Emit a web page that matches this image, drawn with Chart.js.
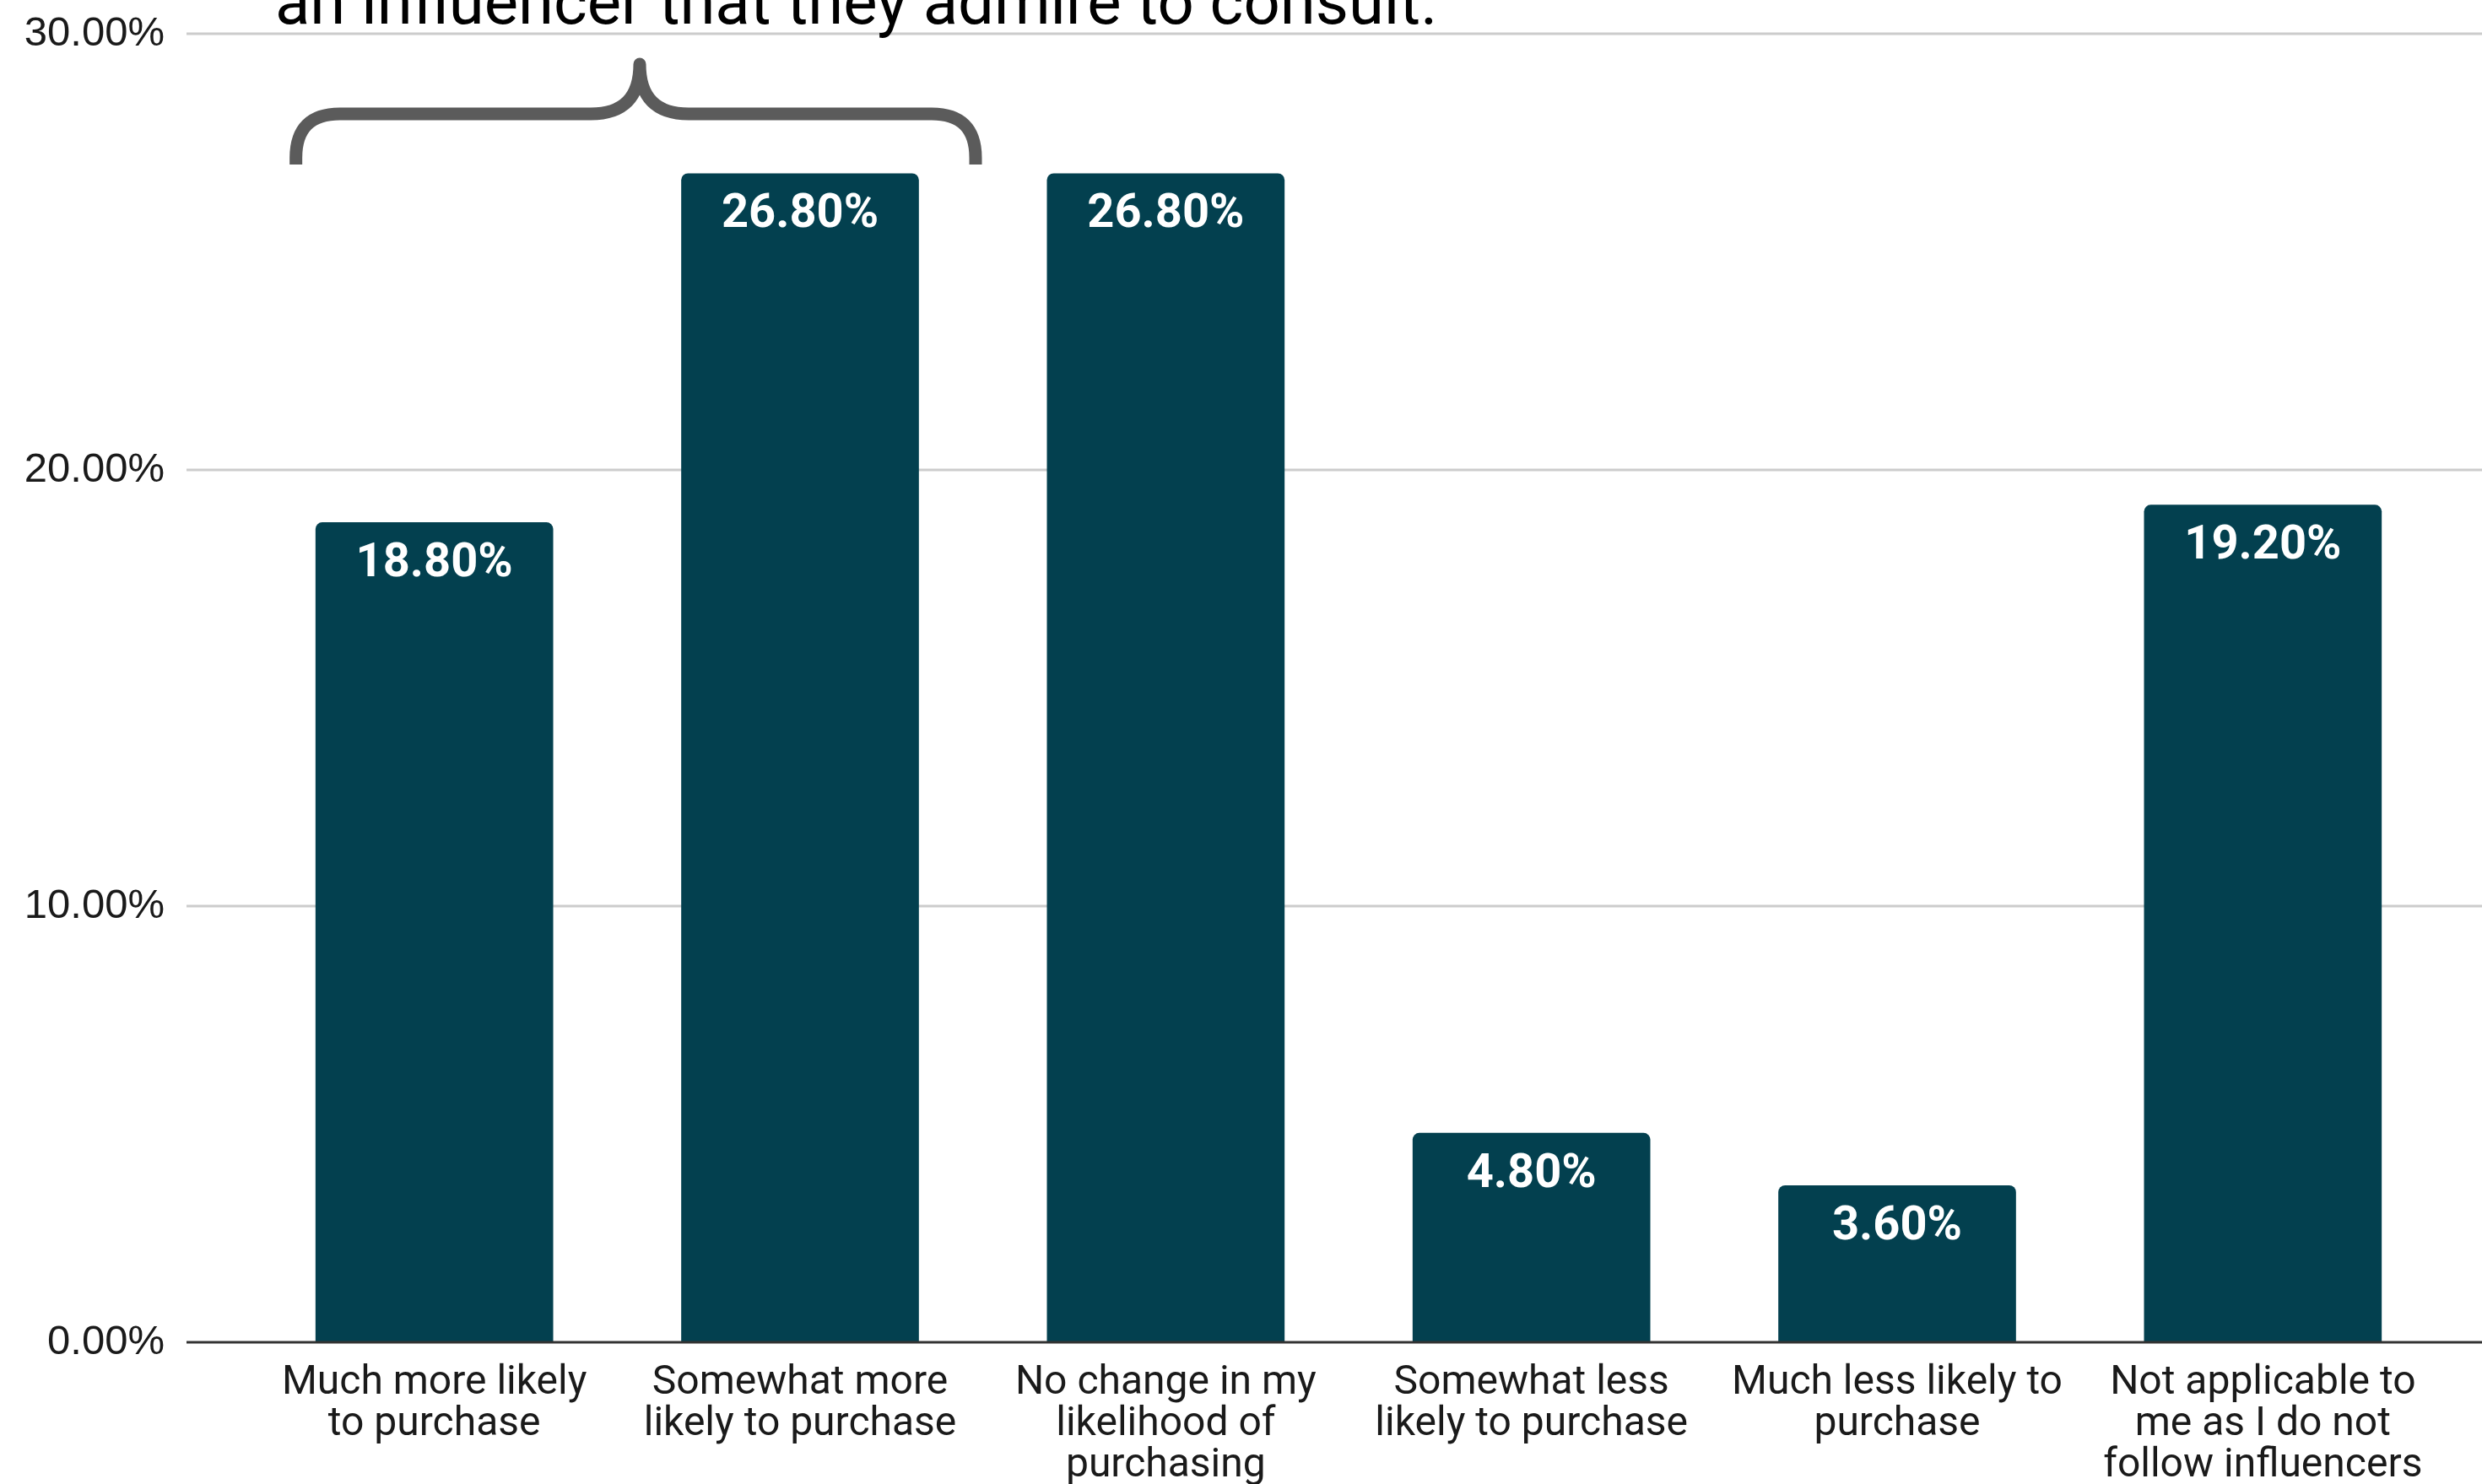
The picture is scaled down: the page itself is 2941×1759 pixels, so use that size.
<!DOCTYPE html>
<html>
<head>
<meta charset="utf-8">
<script src="https://cdn.jsdelivr.net/npm/chart.js@4.4.1/dist/chart.umd.min.js"></script>
<style>
  html, body { margin: 0; padding: 0; background: #fff; }
  canvas { display: block; }
</style>
</head>
<body>
<canvas id="myChart" width="2941" height="1759"></canvas>
<script>
const categories = [
    ['Much more likely', 'to purchase'],
    ['Somewhat more', 'likely to purchase'],
    ['No change in my', 'likelihood of', 'purchasing'],
    ['Somewhat less', 'likely to purchase'],
    ['Much less likely to', 'purchase'],
    ['Not applicable to', 'me as I do not', 'follow influencers']
];
const percentages = [18.8, 26.8, 26.8, 4.8, 3.6, 19.2];
const yTicks = [0, 10, 20, 30];
const captionText = 'an influencer that they admire to consult.';

const barColor = '#03404f';
const gridLeft = 221;

// gridlines that run past the plot area, like the original
const gridPlugin = {
    id: 'wideGrid',
    beforeDatasetsDraw(chart) {
        const ctx = chart.ctx;
        const y = chart.scales.y;
        ctx.save();
        ctx.strokeStyle = '#cccccc';
        ctx.lineWidth = 3;
        yTicks.forEach(function (t) {
            if (t === 0) return;
            const py = Math.round(y.getPixelForValue(t));
            ctx.beginPath();
            ctx.moveTo(gridLeft, py);
            ctx.lineTo(chart.width, py);
            ctx.stroke();
        });
        ctx.restore();
    },
    afterDatasetsDraw(chart) {
        const ctx = chart.ctx;
        const y = chart.scales.y;
        const x = chart.scales.x;
        ctx.save();
        // base line
        const py0 = Math.round(y.getPixelForValue(0));
        ctx.strokeStyle = '#333333';
        ctx.lineWidth = 3;
        ctx.beginPath();
        ctx.moveTo(gridLeft, py0);
        ctx.lineTo(chart.width, py0);
        ctx.stroke();

        // value labels inside bar tops
        ctx.fillStyle = '#ffffff';
        ctx.font = 'bold 56px Roboto';
        ctx.textAlign = 'center';
        ctx.textBaseline = 'middle';
        chart.getDatasetMeta(0).data.forEach(function (bar, i) {
            ctx.fillText(percentages[i].toFixed(2) + '%', bar.x, bar.y + 50);
        });

        // caption cut at the top edge
        ctx.fillStyle = '#000000';
        ctx.font = '76px Roboto';
        ctx.textAlign = 'left';
        ctx.textBaseline = 'alphabetic';
        ctx.fillText(captionText, 326, 28);

        // curly brace over the first two categories
        const left = x.getPixelForValue(0) - 164;
        const right = x.getPixelForValue(1) + 208;
        const mid = 758;
        const bottom = 195, bar = 135, tip = 76, r = 52;
        ctx.strokeStyle = '#5b5b5b';
        ctx.lineWidth = 15;
        ctx.lineCap = 'butt';
        ctx.lineJoin = 'round';
        ctx.beginPath();
        ctx.moveTo(left, bottom);
        ctx.lineTo(left, bar + r);
        ctx.quadraticCurveTo(left, bar, left + r, bar);
        ctx.lineTo(mid - 58, bar);
        ctx.quadraticCurveTo(mid, bar, mid, tip);
        ctx.quadraticCurveTo(mid, bar, mid + 58, bar);
        ctx.lineTo(right - r, bar);
        ctx.quadraticCurveTo(right, bar, right, bar + r);
        ctx.lineTo(right, bottom);
        ctx.stroke();
        ctx.restore();
    }
};

const myChart = new Chart(document.getElementById('myChart').getContext('2d'), {
    type: 'bar',
    data: {
        labels: categories,
        datasets: [{
            data: percentages,
            backgroundColor: barColor,
            borderWidth: 0,
            borderRadius: 8,
            categoryPercentage: 1.0,
            barPercentage: 0.65
        }]
    },
    options: {
        responsive: false,
        animation: false,
        devicePixelRatio: 1,
        layout: { padding: { top: 40, right: 43, left: 0, bottom: 0 } },
        plugins: {
            legend: { display: false },
            tooltip: { enabled: false }
        },
        scales: {
            x: {
                offset: true,
                grid: { display: false, drawTicks: false },
                border: { display: false },
                ticks: {
                    color: '#1a1a1a',
                    font: { family: 'Roboto', size: 48, lineHeight: 1.02 },
                    padding: 25,
                    maxRotation: 0,
                    autoSkip: false
                },
                afterFit(scale) { scale.height = 168; }
            },
            y: {
                min: 0,
                max: 30,
                grid: { display: false, drawTicks: false },
                border: { display: false },
                ticks: {
                    stepSize: 10,
                    color: '#1a1a1a',
                    font: { family: 'Liberation Sans', size: 49 },
                    padding: 103,
                    callback: function (v) { return v.toFixed(2) + '%'; }
                },
                afterFit(scale) {
                    scale.width = 298;
                    // the big tick padding should not push the plot down
                    scale.paddingTop = 0;
                    scale.paddingBottom = 0;
                }
            }
        }
    },
    plugins: [gridPlugin]
});
</script>
</body>
</html>
